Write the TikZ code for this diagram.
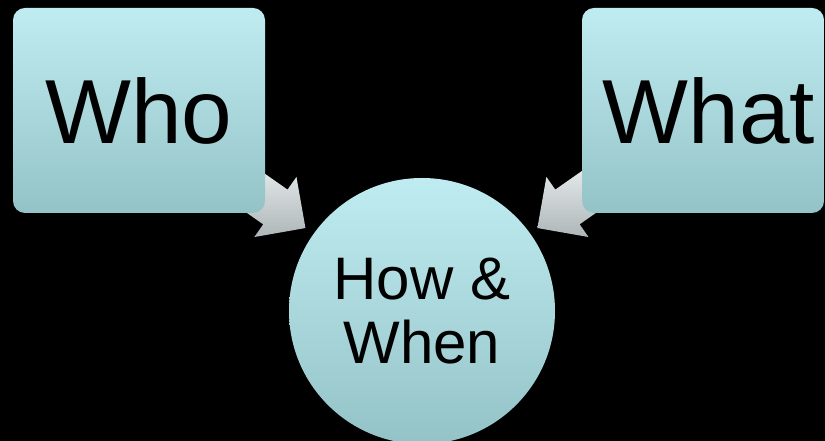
\documentclass[tikz,border=0pt]{standalone}
\usepackage{fontspec}
\setmainfont{Liberation Sans}
\usetikzlibrary{calc}
\usetikzlibrary{positioning}
\usetikzlibrary{shapes.arrows}
\definecolor{aqualight}{HTML}{BFECF0}
\definecolor{aquadark}{HTML}{94C3C7}
\definecolor{arrowlight}{HTML}{EEF2F3}
\definecolor{arrowdark}{HTML}{AEB6B8}
\pgfdeclarelayer{bg}
\pgfsetlayers{bg,main}

\begin{document}
\begin{tikzpicture}[x=1pt, y=1pt,
    box/.style={rectangle, rounded corners=12pt, minimum width=252pt, minimum height=205pt,
      inner sep=0pt, top color=aqualight, bottom color=aquadark, font=\fontsize{91}{100}\selectfont},
    disc/.style={circle, minimum size=266pt, inner sep=0pt, align=center,
      top color=aqualight, bottom color=aquadark, font=\fontsize{60}{64}\selectfont},
    feed/.style={single arrow, minimum height=95pt, inner xsep=0pt, inner ysep=21pt,
      single arrow head extend=15.5pt, top color=arrowlight, bottom color=arrowdark}]
      \useasboundingbox (0, 0) rectangle (825, 441);

      \node[box] (who) at (139, 330.5) {Who};
      \node[box, minimum width=242pt] (what) at (703, 330.5) {\hspace*{12pt}What};
      \node[disc] (hw) at (422, 130) {How \&\\When};

      \begin{pgfonlayer}{bg}
        \fill[black] (0, 0) rectangle (825, 441);
        \node[feed, rotate=-35] (a1) at ($(who)!0.42!(hw)$) {};
        \node[feed, rotate=215] (a2) at ($(what)!0.42!(hw)$) {};
      \end{pgfonlayer}
    \end{tikzpicture}
\end{document}
